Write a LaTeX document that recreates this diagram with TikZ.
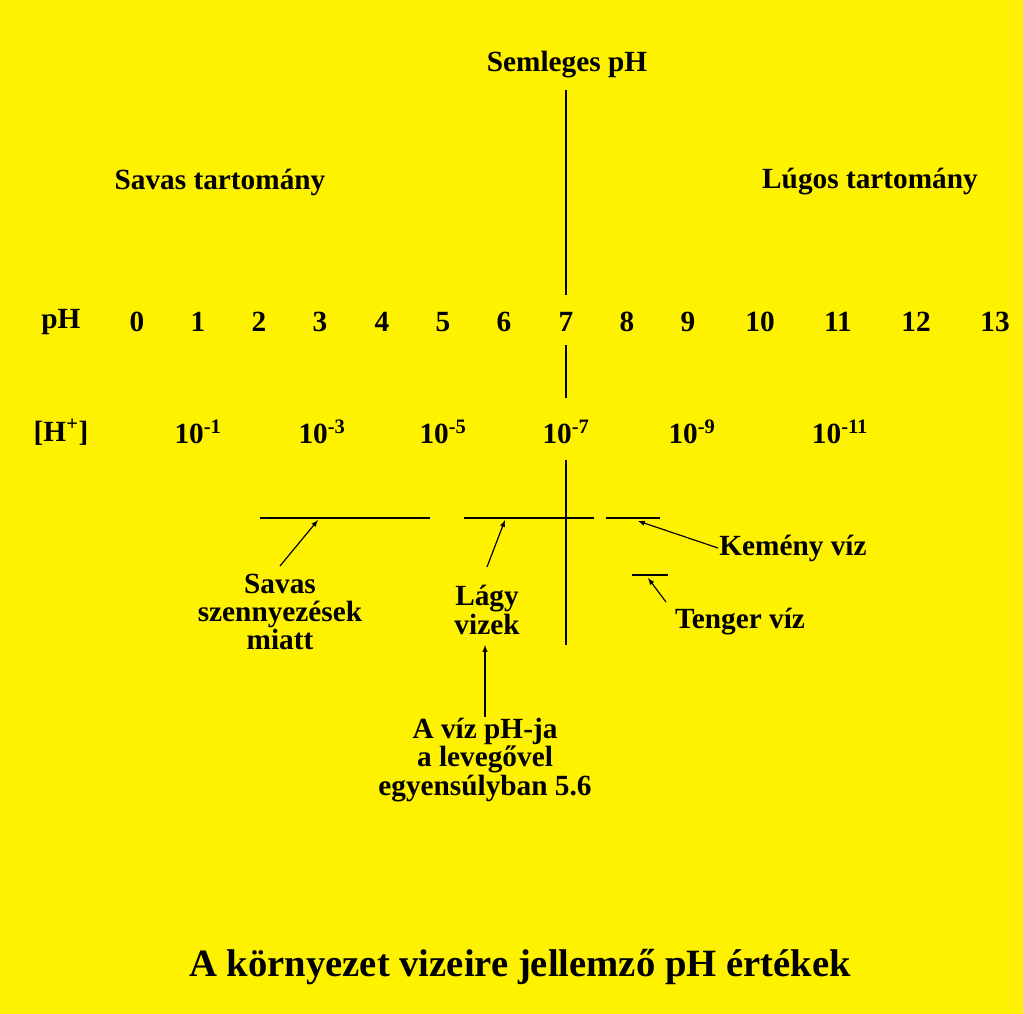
\documentclass[tikz,border=0pt]{standalone}
\usepackage{fontspec}
\setmainfont{Liberation Serif}
\usetikzlibrary{positioning}
\begin{document}
\begin{tikzpicture}[x=0.03cm,y=-0.03cm,
    lbl/.style={font=\bfseries\fontsize{25}{24}\selectfont,inner sep=1pt,align=center},
    num/.style={font=\bfseries\fontsize{25}{24}\selectfont,inner sep=1pt},
    bar/.style={line width=1.6pt},
    pointer/.style={line width=1pt,-latex},
]
\fill[yellow] (0,0) rectangle (1023,1014);
% headings
\node[lbl] (neutral) at (567,65) {Semleges pH};
\node[lbl] (acid) at (220,182) {Savas tartomány};
\node[lbl] (base) at (870,182) {Lúgos tartomány};
% pH scale
\node[num] (phlabel) at (61,322) {pH};
\foreach \v/\x in {0/137,1/198,2/259,3/320,4/382,5/443,6/504,7/566,8/627,9/688,10/760,11/838,12/916,13/995}
    \node[num] (ph\v) at (\x,322) {\v};
% concentrations
\node[num] (hlabel) at (61,432) {[H\textsuperscript{+}]};
\foreach \e/\x in {1/198,3/322,5/443,7/566,9/692,11/840}
    \node[num] (h\e) at (\x,432) {10\textsuperscript{-\e}};
% neutral line
\draw[line width=1.2pt] (566,90) -- (566,295);
\draw[line width=1.2pt] (566,345) -- (566,398);
\draw[line width=1.2pt] (566,460) -- (566,645);
% ranges
\coordinate (acidL) at (260,518); \coordinate (acidR) at (430,518);
\coordinate (softL) at (464,518); \coordinate (softR) at (594,518);
\coordinate (hardL) at (606,518); \coordinate (hardR) at (660,518);
\coordinate (seaL) at (632,575);  \coordinate (seaR) at (668,575);
\draw[bar] (acidL) -- (acidR);
\draw[bar] (softL) -- (softR);
\draw[bar] (hardL) -- (hardR);
\draw[bar] (seaL) -- (seaR);
% labels
\node[lbl] (pollution) at (280,612) {Savas\\szennyezések\\miatt};
\node[lbl] (soft) at (487,610) {Lágy\\vizek};
\node[lbl] (hard) at (793,548) {Kemény víz};
\node[lbl] (sea) at (740,622) {Tenger víz};
\node[lbl] (air) at (485,760) {A víz pH-ja\\a levegővel\\egyensúlyban 5.6};
\node[font=\bfseries\fontsize{33}{36}\selectfont,inner sep=1pt] (title) at (520,967) {A környezet vizeire jellemző pH értékek};
% pointers
\coordinate (acidP) at (318,520);
\coordinate (softP) at (505,520);
\coordinate (hardP) at (638,521);
\coordinate (seaP) at (648,578);
\coordinate (eqP) at (485,645);
\draw[pointer] (280,566) -- (acidP);
\draw[pointer] (487,567) -- (softP);
\draw[pointer] (hard.west) -- (hardP);
\draw[pointer] (666,602) -- (seaP);
\draw[pointer] (air.north) -- (eqP);
\end{tikzpicture}
\end{document}
